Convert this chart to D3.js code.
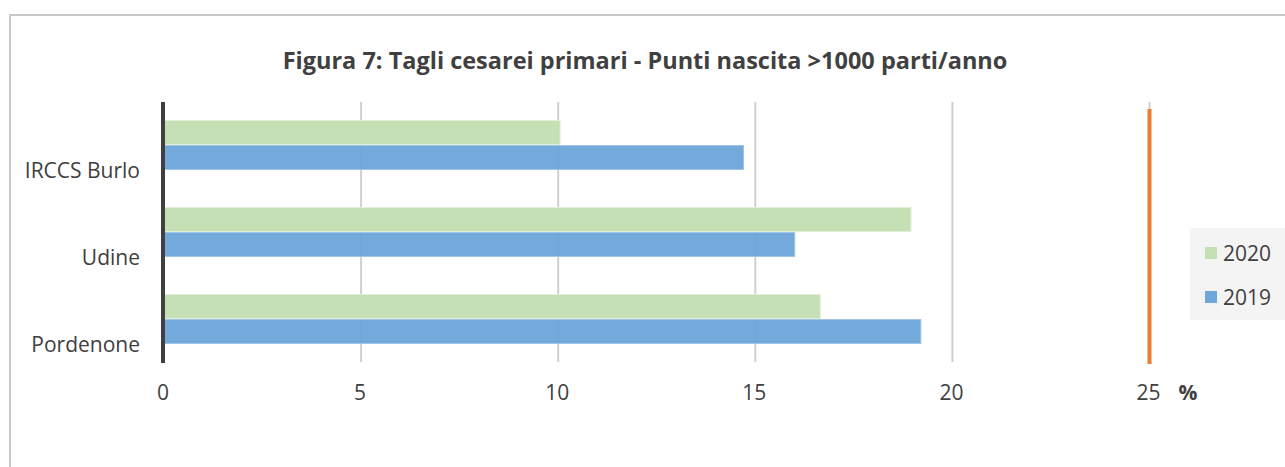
<!DOCTYPE html>
<html><head><meta charset="utf-8">
<script src="https://cdn.jsdelivr.net/npm/d3@7"></script>
<style>
html,body{margin:0;padding:0;background:#fff;}
svg{display:block;font-family:"Open Sans",sans-serif;}
</style></head><body>
<svg id="c" width="1285" height="467"></svg>
<script>
const categories = ["IRCCS Burlo", "Udine", "Pordenone"];
const seriesNames = ["2020", "2019"];
const values2020 = [10.05, 18.95, 16.65];
const values2019 = [14.7, 16.0, 19.2];
const xTicks = [0, 5, 10, 15, 20, 25];
const threshold = 25;
const titleText = "Figura 7: Tagli cesarei primari - Punti nascita >1000 parti/anno";

const colors = {"2020": "#c5e0b4", "2019": "#6fa7da"};
const strokes = {"2020": "#e2f0d9", "2019": "#9dc3e6"};
const textColor = "#404040";

const svg = d3.select("#c");
// outer border
svg.append("rect").attr("x", 10).attr("y", 15).attr("width", 1290).attr("height", 470)
  .attr("fill", "#fff").attr("stroke", "#c8c8c8").attr("stroke-width", 2);

const x = d3.scaleLinear().domain([0, 25]).range([164, 1149.5]);
const y = d3.scaleBand().domain(categories).range([101.5, 362.5]).paddingInner(0.437).paddingOuter(0.2185);
const ySub = d3.scaleBand().domain(seriesNames).range([0, y.bandwidth()]).paddingInner(0.04);

const plotTop = 102, plotBottom = 362;

// gridlines
svg.append("g").selectAll("line").data(xTicks.filter(d => d > 0)).join("line")
  .attr("x1", d => x(d)).attr("x2", d => x(d)).attr("y1", plotTop).attr("y2", plotBottom)
  .attr("stroke", "#cfcfcf").attr("stroke-width", 2);

// bars
const data = [];
categories.forEach((c, i) => {
  data.push({cat: c, s: "2020", v: values2020[i]});
  data.push({cat: c, s: "2019", v: values2019[i]});
});
svg.append("g").selectAll("rect").data(data).join("rect")
  .attr("x", x(0)).attr("y", d => y(d.cat) + ySub(d.s))
  .attr("width", d => x(d.v) - x(0)).attr("height", ySub.bandwidth())
  .attr("fill", d => colors[d.s]).attr("stroke", d => strokes[d.s]).attr("stroke-width", 1)
  .attr("opacity", 0.97);

// left axis line
svg.append("line").attr("x1", 163).attr("x2", 163).attr("y1", plotTop).attr("y2", plotBottom + 1)
  .attr("stroke", "#404040").attr("stroke-width", 4);

// orange threshold line
svg.append("line").attr("x1", x(threshold)).attr("x2", x(threshold)).attr("y1", 109).attr("y2", 364)
  .attr("stroke", "#ed7d31").attr("stroke-width", 4);

// x tick labels
svg.append("g").selectAll("text").data(xTicks).join("text")
  .attr("x", d => x(d) - 1).attr("y", 400).attr("text-anchor", "middle")
  .attr("font-size", 21).attr("fill", textColor).text(d => d);
svg.append("text").attr("x", 1188).attr("y", 400).attr("text-anchor", "middle")
  .attr("font-size", 21).attr("font-weight", "bold").attr("fill", textColor).text("%");

// category labels
svg.append("g").selectAll("text").data(categories).join("text")
  .attr("x", 140).attr("y", d => y(d) + y.bandwidth() / 2 + 33).attr("text-anchor", "end")
  .attr("font-size", 21).attr("fill", textColor).text(d => d);

// title
svg.append("text").attr("x", 645).attr("y", 69).attr("text-anchor", "middle")
  .attr("font-size", 23.5).attr("font-weight", "bold").attr("fill", textColor).text(titleText);

// legend
const lg = svg.append("g");
lg.append("rect").attr("x", 1190).attr("y", 228).attr("width", 100).attr("height", 92).attr("fill", "#f4f4f4");
seriesNames.forEach((s, i) => {
  const cy = 253 + i * 44;
  lg.append("rect").attr("x", 1205).attr("y", cy - 6).attr("width", 12).attr("height", 12)
    .attr("fill", colors[s]);
  lg.append("text").attr("x", 1223).attr("y", cy + 7.5).attr("font-size", 21)
    .attr("fill", textColor).text(s);
});
</script></body></html>
